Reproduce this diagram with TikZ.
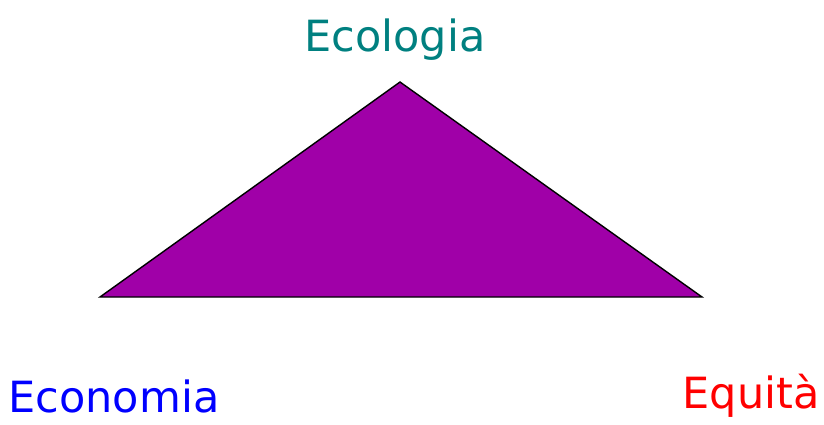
\documentclass[tikz,border=0pt]{standalone}
\usepackage{fontspec}
\setmainfont{DejaVu Sans}
\usepackage{tikz}
\definecolor{ecoteal}{RGB}{0,128,128}
\definecolor{triviolet}{RGB}{160,0,168}

\begin{document}
\begin{tikzpicture}[
  x=1pt, y=-1pt,
  lab/.style = {font=\fontsize{43}{47}\selectfont, inner sep=0pt},
  tri/.style = {draw=black, fill=triviolet, line width=1.4pt}
]
\useasboundingbox (0,0) rectangle (824,424);

\coordinate (top)   at (400,82);
\coordinate (left)  at (100,297);
\coordinate (right) at (702,297);

\draw[tri] (left) -- (top) -- (right) -- cycle;

\node[lab, text=ecoteal] (ecologia) at (395,40)  {Ecologia};
\node[lab, text=blue]    (economia) at (114,396) {Economia};
\node[lab, text=red]     (equita)   at (751,396) {Equità};
\end{tikzpicture}
\end{document}
